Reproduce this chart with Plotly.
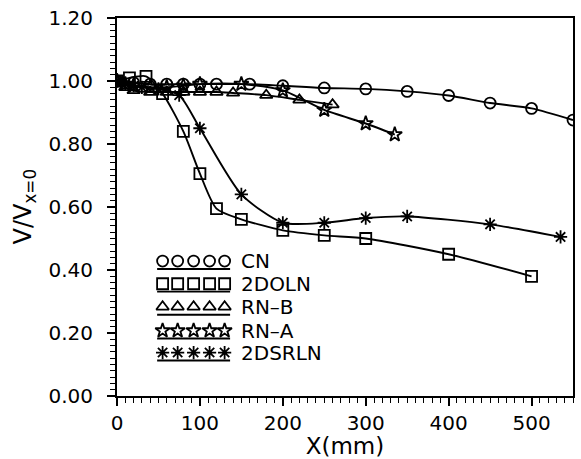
import plotly.graph_objects as go

# Velocity decay profiles V/V(x=0) against distance X (mm)
cn_x = [0, 20, 40, 60, 80, 100, 120, 160, 200, 250, 300, 350, 400, 450, 500, 550]
cn_y = [1.0, 0.995, 0.99, 0.99, 0.99, 0.99, 0.99, 0.99, 0.985, 0.978, 0.975, 0.967, 0.954, 0.93, 0.913, 0.876]

doln_x = [0, 15, 35, 55, 80, 100, 120, 150, 200, 250, 300, 400, 500]
doln_y = [1.0, 1.01, 1.015, 0.96, 0.84, 0.706, 0.595, 0.561, 0.526, 0.51, 0.5, 0.45, 0.38]

rnb_x = [0, 10, 20, 40, 60, 80, 100, 120, 140, 180, 220, 260]
rnb_y = [1.0, 0.98, 0.97, 0.965, 0.965, 0.965, 0.965, 0.965, 0.962, 0.955, 0.94, 0.925]

rna_x = [0, 10, 20, 40, 60, 80, 100, 150, 200, 250, 300, 335]
rna_y = [1.0, 0.99, 0.985, 0.98, 0.98, 0.985, 0.99, 0.99, 0.97, 0.908, 0.865, 0.83]

dsrln_x = [0, 10, 20, 30, 50, 75, 100, 150, 200, 250, 300, 350, 450, 535]
dsrln_y = [1.0, 0.99, 0.985, 0.98, 0.975, 0.955, 0.85, 0.64, 0.55, 0.55, 0.565, 0.57, 0.545, 0.505]

series_names = ["CN", "2DOLN", "RN\u2013B", "RN\u2013A", "2DSRLN"]
series_symbols = ["circle-open", "square-open", "triangle-up-open", "star-open", "asterisk-open"]
series_data = [(cn_x, cn_y), (doln_x, doln_y), (rnb_x, rnb_y), (rna_x, rna_y), (dsrln_x, dsrln_y)]

x_ticks = [0, 100, 200, 300, 400, 500]
y_ticks = [0.0, 0.2, 0.4, 0.6, 0.8, 1.0, 1.2]

FONT = "DejaVu Sans"
INK = "black"
LW = 1.9

fig = go.Figure()

for name, sym, (xs, ys) in zip(series_names, series_symbols, series_data):
    fig.add_trace(go.Scatter(
        x=xs, y=ys, name=name, mode="lines+markers",
        line=dict(color=INK, width=LW, shape="spline", smoothing=0.7),
        marker=dict(symbol=sym, size=11, color=INK, line=dict(width=1.8, color=INK)),
        showlegend=False,
    ))

# Key: a row of five symbols over an underline for each series
key_marker_x = [0.100, 0.133, 0.168, 0.203, 0.236]
key_rows_y = [0.357, 0.297, 0.236, 0.173, 0.115]
for name, sym, ky in zip(series_names, series_symbols, key_rows_y):
    fig.add_trace(go.Scatter(
        x=[0.088, 0.248], y=[ky - 0.021, ky - 0.021], mode="lines",
        line=dict(color=INK, width=LW), xaxis="x2", yaxis="y2",
        showlegend=False, hoverinfo="skip",
    ))
    fig.add_trace(go.Scatter(
        x=key_marker_x, y=[ky] * len(key_marker_x), mode="markers",
        marker=dict(symbol=sym, size=11, color=INK, line=dict(width=1.8, color=INK)),
        xaxis="x2", yaxis="y2", showlegend=False, hoverinfo="skip",
    ))
    fig.add_annotation(
        x=0.268, y=ky, xref="paper", yref="paper", text=name,
        showarrow=False, xanchor="left", yanchor="middle",
        font=dict(family=FONT, size=20, color=INK),
    )

axis_common = dict(
    showline=True, linecolor=INK, linewidth=2, mirror=True,
    ticks="outside", ticklen=8, tickwidth=1.5, tickcolor=INK,
    showgrid=False, zeroline=False,
    tickfont=dict(family=FONT, size=20, color=INK),
)

fig.update_layout(
    width=581, height=459,
    margin=dict(l=117, r=6, t=15, b=63),
    paper_bgcolor="white", plot_bgcolor="white",
    xaxis=dict(
        range=[0, 550], tickvals=x_ticks, ticktext=[str(v) for v in x_ticks],
        minor=dict(dtick=10, tick0=0, ticks="outside", ticklen=5, tickwidth=1.2, tickcolor=INK),
        title=dict(text="X(mm)", font=dict(family=FONT, size=23, color=INK), standoff=0),
        **axis_common,
    ),
    yaxis=dict(
        range=[0, 1.2], tickvals=y_ticks,
        # trailing en space keeps the labels clear of the axis
        ticktext=[f"{v:.2f}\u2002" for v in y_ticks],
        minor=dict(dtick=0.02, tick0=0, ticks="outside", ticklen=5, tickwidth=1.2, tickcolor=INK),
        **axis_common,
    ),
    xaxis2=dict(range=[0, 1], overlaying="x", visible=False, fixedrange=True),
    yaxis2=dict(range=[0, 1], overlaying="y", visible=False, fixedrange=True),
    showlegend=False,
)

# Rotated y-axis title with subscript
fig.add_annotation(
    x=-0.205, y=0.5, xref="paper", yref="paper", xanchor="center", yanchor="middle",
    text="V/V<sub>x=0</sub>", textangle=-90, showarrow=False,
    font=dict(family=FONT, size=24, color=INK),
)

fig.write_html("out.html")
